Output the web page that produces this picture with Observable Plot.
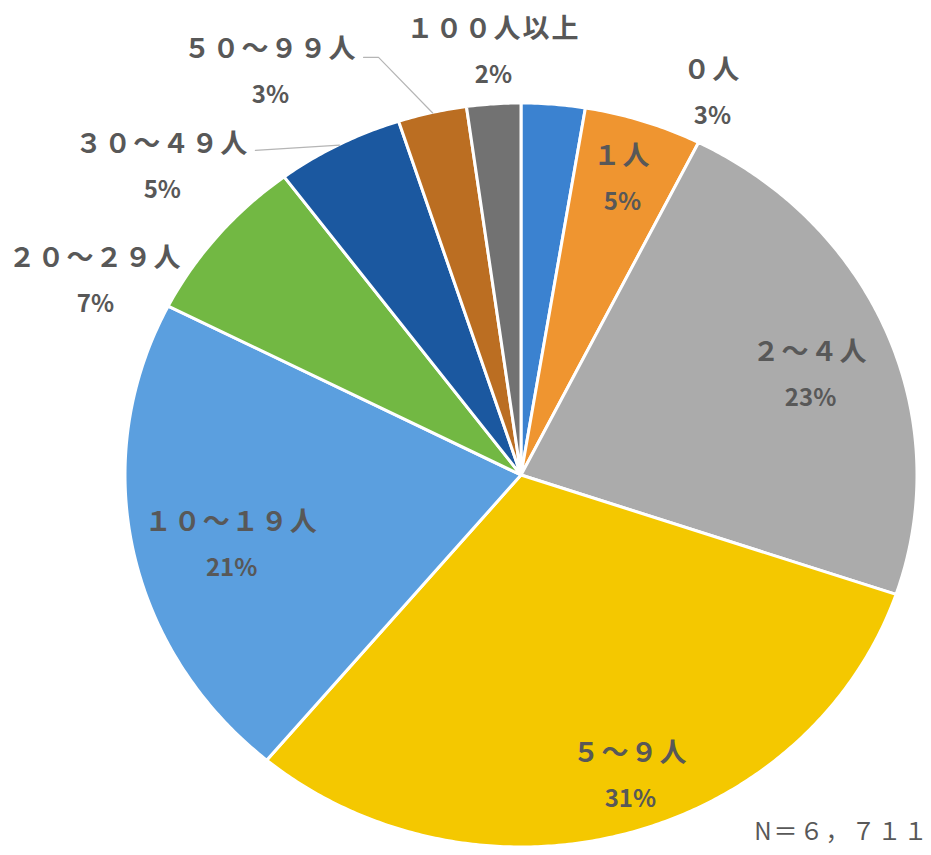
<!DOCTYPE html>
<html><head><meta charset="utf-8">
<script src="https://cdn.jsdelivr.net/npm/d3@7"></script>
<script src="https://cdn.jsdelivr.net/npm/@observablehq/plot@0.6"></script>
<style>body{margin:0;background:#fff;}</style>
</head><body><div id="chart"></div>
<script>
// ---- data ----
const categories = ["０人","１人","２～４人","５～９人","１０～１９人","２０～２９人","３０～４９人","５０～９９人","１００人以上"];
const shares = [2.6, 4.8, 22.8, 30.9, 21.4, 7.3, 5.2, 2.8, 2.2];
const colors = ["#3b82d0","#ef9530","#ababab","#f4c800","#5b9fdf","#72b843","#1b58a0","#bb6e22","#727272"];
const sampleSize = "N＝６，７１１";

// ---- layout (label placement in normalized pie coordinates) ----
const labelPos = [[0.482,1.027],[0.255,0.796],[0.730,0.269],[0.275,-0.809],[-0.732,-0.188],[-1.076,0.522],[-0.907,0.828],[-0.634,1.083],[-0.071,1.137]];
const leaderStarts = {7: [[-0.399,1.124],[-0.361,1.124]], 6: [[-0.672,0.874]]};

const total = d3.sum(shares);
const wedges = [];
const slices = [];
let cum = 0;
categories.forEach((cat, i) => {
  const a0 = cum / total * 2 * Math.PI;
  cum += shares[i];
  const a1 = cum / total * 2 * Math.PI;
  const n = Math.max(2, Math.ceil((a1 - a0) / (Math.PI / 360)));
  for (let k = 0; k <= n; k++) {
    const a = a0 + (a1 - a0) * k / n;
    wedges.push({cat, px: Math.sin(a), py: Math.cos(a)});
  }
  slices.push({cat, i, mid: (a0 + a1) / 2, pct: Math.round(shares[i] / total * 100) + "%"});
});

const labels = slices.map(s => ({name: s.cat, pct: s.pct, x: labelPos[s.i][0], y: labelPos[s.i][1]}));
const leaderRows = [];
Object.entries(leaderStarts).forEach(([i, pts]) => {
  pts.forEach(p => leaderRows.push({id: i, x: p[0], y: p[1]}));
  const m = slices[+i].mid;
  leaderRows.push({id: i, x: Math.sin(m), y: Math.cos(m)});
});

const chart = Plot.plot({
  width: 931, height: 855,
  marginTop: 0, marginRight: 0, marginBottom: 0, marginLeft: 0,
  x: {domain: [-1, 1], range: [125, 917], axis: null},
  y: {domain: [-1, 1], range: [847, 103], axis: null},
  color: {domain: categories, range: colors},
  style: {fontFamily: "'Noto Sans CJK JP', 'Noto Sans', sans-serif", background: "#fff"},
  marks: [
    Plot.area(wedges, {x1: "px", y1: "py", x2: d => 0, y2: d => 0, z: "cat", fill: "cat", stroke: "white", strokeWidth: 3, strokeLinejoin: "round"}),
    Plot.line(leaderRows, {x: "x", y: "y", z: "id", stroke: "#b5b5b5", strokeWidth: 1.2}),
    Plot.text(labels, {x: "x", y: "y", text: "name", dy: -23, fill: "#585858", fontSize: 27, fontWeight: 600}),
    Plot.text(labels, {x: "x", y: "y", text: "pct", dy: 23, fill: "#585858", fontSize: 24, fontWeight: 600}),
    Plot.text([sampleSize], {text: d => d, frameAnchor: "bottom-right", textAnchor: "end", dx: -2, dy: -16, fill: "#585858", fontSize: 24})
  ]
});
d3.select(chart).selectAll("text").filter(function() { return /人/.test(this.textContent); }).attr("letter-spacing", 2);
d3.select(chart).selectAll("text").filter(function() { return /N/.test(this.textContent); }).attr("letter-spacing", 2);
document.getElementById("chart").append(chart);
</script>
</body></html>
